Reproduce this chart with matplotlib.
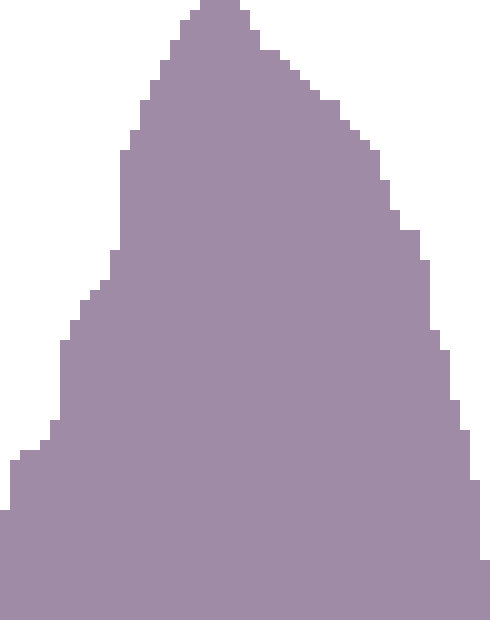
import matplotlib
matplotlib.use("Agg")
import matplotlib.pyplot as plt

bins = list(range(49))
counts = [110, 160, 170, 170, 180, 200, 280, 300, 320, 330, 340, 370, 470, 490,
          520, 540, 560, 580, 600, 610, 620, 620, 620, 620, 610, 590, 570, 570,
          560, 550, 540, 530, 520, 520, 500, 490, 480, 470, 440, 410, 390, 390,
          360, 290, 270, 220, 190, 140, 60]

fig = plt.figure(figsize=(4.9, 6.2), dpi=100)
ax = fig.add_axes([0, 0, 1, 1])
ax.bar(bins, counts, width=1.0, align="edge", color="#9f8ba6",
       linewidth=0, antialiased=False)
ax.set_xlim(0, len(bins))
ax.set_ylim(0, 620)
ax.axis("off")
fig.savefig("out.png", dpi=100)
